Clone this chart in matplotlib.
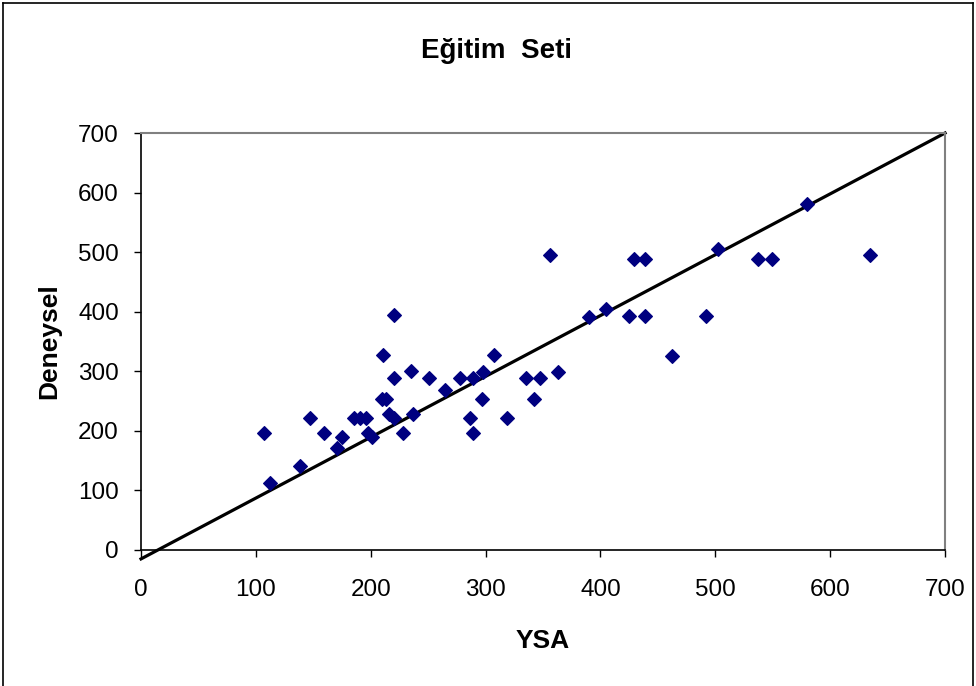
import matplotlib.pyplot as plt
from matplotlib.lines import Line2D

plt.rcParams['font.family'] = ['Liberation Sans', 'DejaVu Sans']

ysa = [107, 112, 138, 147, 159, 171, 175, 185, 191, 196,
       198, 201, 210, 213, 211, 216, 220, 220, 220, 228,
       235, 237, 251, 265, 278, 286, 289, 289, 297, 298,
       307, 319, 335, 342, 347, 356, 363, 390, 405, 425,
       429, 439, 439, 462, 492, 502, 537, 549, 580, 635]
deneysel = [196, 113, 141, 221, 196, 172, 190, 221, 221, 221,
            196, 190, 253, 253, 327, 229, 221, 288, 395, 196,
            300, 229, 288, 268, 288, 221, 288, 196, 253, 299,
            327, 221, 288, 253, 288, 495, 299, 391, 405, 393,
            488, 488, 393, 326, 393, 505, 488, 488, 581, 495]

trend_x = [0, 700]
trend_y = [-15, 700]

fig = plt.figure(figsize=(9.76, 6.86), dpi=100)
ax = fig.add_axes([0.1445, 0.1983, 0.8238, 0.6078])

ax.plot(trend_x, trend_y, color='black', lw=2.3, zorder=2, clip_on=False)
ax.plot(ysa, deneysel, 'D', color='#000080', markersize=7.2,
        markeredgewidth=0.8, markeredgecolor='#000080', zorder=3)

ax.set_xlim(0, 700)
ax.set_ylim(0, 700)
ax.set_xticks(range(0, 701, 100))
ax.set_yticks(range(0, 701, 100))
ax.tick_params(labelsize=17.5, length=5, width=1, direction='out')
ax.tick_params(axis='x', pad=16)
ax.tick_params(axis='y', pad=11)
for s in ['top', 'right']:
    ax.spines[s].set_color('#808080')
    ax.spines[s].set_linewidth(1.5)
for s in ['left', 'bottom']:
    ax.spines[s].set_linewidth(1.2)

ax.set_title('Eğitim  Seti', fontsize=20, fontweight='bold', pad=54, x=0.4415)
ax.set_xlabel('YSA', fontsize=19, fontweight='bold', labelpad=20)
ax.set_ylabel('Deneysel', fontsize=19, fontweight='bold', labelpad=12)

# outer chart border (cut off at the bottom)
fig.add_artist(Line2D([3/976, 3/976], [0, 1 - 3/686], color='black', lw=1.2))
fig.add_artist(Line2D([3/976, 973/976], [1 - 3/686, 1 - 3/686], color='black', lw=1.2))
fig.add_artist(Line2D([973/976, 973/976], [0, 1 - 3/686], color='black', lw=1.2))

plt.savefig('out.png', dpi=100)
